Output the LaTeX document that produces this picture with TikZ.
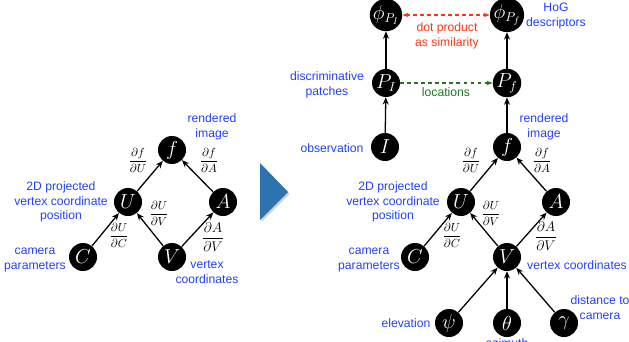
\documentclass[tikz,border=0pt]{standalone}
\usepackage{amsmath}
\usepackage{fontspec}
\setmainfont{Liberation Sans}
\usetikzlibrary{arrows.meta,shadows}
\definecolor{lblblue}{RGB}{35,65,250}
\definecolor{simred}{RGB}{250,55,20}
\definecolor{locgreen}{RGB}{30,120,30}
\definecolor{arrowblue}{RGB}{45,115,175}
\begin{document}
\begin{tikzpicture}[x=0.03cm,y=-0.03cm,
  var/.style={circle,fill=black,text=white,minimum size=0.84cm,inner sep=0pt,font=\fontsize{16}{18}\selectfont},
  lbl/.style={text=lblblue,align=center,inner sep=0pt,font=\fontsize{10.4}{12.6}\selectfont},
  deriv/.style={inner sep=0pt,font=\fontsize{10}{12}\selectfont},
  edge/.style={-{Stealth[length=2.2mm,width=1.8mm]},line width=1.1pt}]
\useasboundingbox (0,0) rectangle (629,341);
\clip (0,0) rectangle (629,341);
% 左の図
\node[var] (lf) at (172,150) {$f$};
\node[var] (lU) at (128,202) {$U$};
\node[var] (lA) at (223,202) {$A$};
\node[var] (lC) at (83,257) {$C$};
\node[var] (lV) at (172,257) {$V$};
\draw[edge] (lC) -- (lU);
\draw[edge] (lV) -- (lU);
\draw[edge] (lV) -- (lA);
\draw[edge] (lU) -- (lf);
\draw[edge] (lA) -- (lf);
\node[lbl] (lrend) at (212,127) {rendered\\image};
\node[lbl] (lproj) at (61,202) {2D projected\\vertex coordinate\\position};
\node[lbl] (lcam) at (35,260) {camera\\parameters};
\node[lbl] (lvert) at (207,272) {vertex\\coordinates};
\node[deriv] (ldfU) at (138,160) {$\dfrac{\partial f}{\partial U}$};
\node[deriv] (ldfA) at (209,160) {$\dfrac{\partial f}{\partial A}$};
\node[deriv] (ldUV) at (159,213) {$\dfrac{\partial U}{\partial V}$};
\node[deriv] (ldUC) at (119,235) {$\dfrac{\partial U}{\partial C}$};
\node[deriv,font=\fontsize{11.5}{13}\selectfont] (ldAV) at (213,237) {$\dfrac{\partial A}{\partial V}$};
% 矢印
\fill[arrowblue,drop shadow={shadow xshift=0.5mm,shadow yshift=-0.6mm,fill=gray!70}] (260,163) -- (288,192) -- (260,220) -- cycle;
% 右の図
\node[var] (phiI) at (386,15) {$\phi_{P_I}$};
\node[var] (phif) at (507,15) {$\phi_{P_f}$};
\node[var] (PI) at (386,83) {$P_I$};
\node[var] (Pf) at (507,83) {$P_f$};
\node[var] (rI) at (385,147) {$I$};
\node[var] (rf) at (507,147) {$f$};
\node[var] (rU) at (461,202) {$U$};
\node[var] (rA) at (556,202) {$A$};
\node[var] (rC) at (415,257) {$C$};
\node[var] (rV) at (507,257) {$V$};
\node[var] (psi) at (449,323) {$\psi$};
\node[var] (theta) at (507,323) {$\theta$};
\node[var] (gam) at (564,323) {$\gamma$};
\draw[edge] (rI) -- (PI);
\draw[edge] (PI) -- (phiI);
\draw[edge] (rf) -- (Pf);
\draw[edge] (Pf) -- (phif);
\draw[edge] (rC) -- (rU);
\draw[edge] (rV) -- (rU);
\draw[edge] (rV) -- (rA);
\draw[edge] (rU) -- (rf);
\draw[edge] (rA) -- (rf);
\draw[edge] (psi) -- (rV);
\draw[edge] (theta) -- (rV);
\draw[edge] (gam) -- (rV);
% 点線の矢印
\draw[simred,dashed,line width=0.9pt,{Stealth[length=1.8mm]}-{Stealth[length=1.8mm]}] (phiI) -- (phif);
\draw[locgreen,dashed,line width=0.9pt,-{Stealth[length=1.8mm]}] (PI) -- (Pf);
\node[lbl,text=simred] (dot) at (447,36) {dot product\\as similarity};
\node[lbl,text=locgreen] (loc) at (446,92) {locations};
% ラベル
\node[lbl] (hog) at (556,16) {HoG\\descriptors};
\node[lbl] (disc) at (327,85) {discriminative\\patches};
\node[lbl] (obs) at (332,148) {observation};
\node[lbl] (rrend) at (544,127) {rendered\\image};
\node[lbl] (rproj) at (393,202) {2D projected\\vertex coordinate\\position};
\node[lbl] (rcam) at (369,260) {camera\\parameters};
\node[lbl] (rvert) at (577,265) {vertex coordinates};
\node[lbl] (elev) at (406,323) {elevation};
\node[lbl] (azi) at (507,343) {azimuth};
\node[lbl] (dist) at (600,308) {distance to\\camera};
\node[deriv] (rdfU) at (471,160) {$\dfrac{\partial f}{\partial U}$};
\node[deriv] (rdfA) at (542,160) {$\dfrac{\partial f}{\partial A}$};
\node[deriv] (rdUV) at (491,213) {$\dfrac{\partial U}{\partial V}$};
\node[deriv] (rdUC) at (452,235) {$\dfrac{\partial U}{\partial C}$};
\node[deriv,font=\fontsize{11.5}{13}\selectfont] (rdAV) at (546,236) {$\dfrac{\partial A}{\partial V}$};
\end{tikzpicture}
\end{document}
